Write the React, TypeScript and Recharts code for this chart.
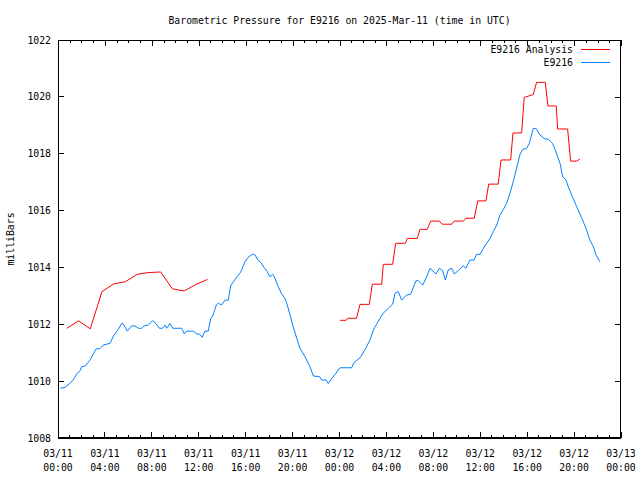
import React from 'react';
import { LineChart, Line, XAxis, YAxis } from 'recharts';

// hours since 03/11 00:00 UTC, pressure in mbar
const analysisEarlyHours = [0.75, 1.75, 2.75, 3.75, 4.75, 5.75, 6.75, 7.75, 8.75, 9.75, 10.75, 11.75, 12.75];
const analysisEarlyValues = [1011.86, 1012.12, 1011.84, 1013.15, 1013.42, 1013.5, 1013.76, 1013.82, 1013.84, 1013.25, 1013.17, 1013.4, 1013.58];

const analysisLateHours = [
  24.04, 24.55, 24.7, 25.45, 25.75, 26.54, 26.8, 27.6, 27.73, 28.53, 28.79, 29.61, 29.78, 30.63,
  30.86, 31.48, 31.77, 32.51, 32.76, 33.56, 33.78, 34.55, 34.78, 35.49, 35.78, 36.49, 36.72, 37.53,
  37.77, 38.59, 38.79, 39.53, 39.75, 40.52, 40.8, 41.54, 41.77, 42.48, 42.6, 43.45, 43.7, 44.22, 44.5,
];
const analysisLateValues = [
  1012.14, 1012.14, 1012.21, 1012.21, 1012.7, 1012.7, 1013.41, 1013.41, 1014.11, 1014.11, 1014.85, 1014.85, 1015.02, 1015.02,
  1015.34, 1015.34, 1015.63, 1015.63, 1015.52, 1015.52, 1015.63, 1015.63, 1015.73, 1015.73, 1016.34, 1016.34, 1016.93, 1016.93,
  1017.78, 1017.78, 1018.73, 1018.73, 1019.98, 1020.08, 1020.51, 1020.51, 1019.68, 1019.68, 1018.87, 1018.87, 1017.74, 1017.74, 1017.81,
];

const stationHours = [
  0.2, 0.6, 1.0, 1.3, 1.59, 1.88, 2.02, 2.3, 2.73, 3.24, 3.58, 3.86, 4.43, 4.77, 5.14, 5.43, 5.55, 5.91,
  6.28, 6.56, 6.85, 7.13, 7.33, 7.7, 8.07, 8.35, 8.64, 8.92, 9.12, 9.27, 9.55, 9.78, 10.55, 10.77, 10.97,
  11.54, 11.82, 12.05, 12.3, 12.53, 12.81, 13.02, 13.19, 13.5, 13.67, 13.95, 14.24, 14.52, 14.72, 14.89,
  15.23, 15.57, 15.94, 16.22, 16.6, 16.79, 17.08, 17.31, 17.56, 17.84, 18.07, 18.3, 18.5, 18.78, 19.07,
  19.35, 19.55, 19.78, 20.01, 20.35, 20.63, 21.06, 21.48, 21.77, 22.28, 22.48, 22.85, 23.04, 23.25, 23.7,
  24.04, 25.04, 25.23, 25.75, 26.17, 26.6, 26.88, 27.17, 27.45, 27.73, 28.16, 28.53, 28.73, 29.01, 29.3,
  29.72, 30.07, 30.52, 30.72, 31.09, 31.43, 31.71, 32.23, 32.51, 32.79, 33.02, 33.27, 33.56, 33.79, 34.13,
  34.55, 34.78, 35.12, 35.47, 35.69, 35.98, 36.26, 36.55, 36.83, 37.11, 37.4, 37.68, 37.97, 38.25, 38.53,
  38.82, 39.1, 39.39, 39.61, 39.95, 40.18, 40.52, 40.75, 41.09, 41.52, 41.8, 42.17, 42.45, 42.8, 43.03,
  43.31, 43.5, 43.79, 44.22, 44.65, 45.01, 45.35, 45.64, 45.87, 46.21,
];
const stationValues = [
  1009.75, 1009.78, 1009.92, 1010.04, 1010.25, 1010.37, 1010.51, 1010.53, 1010.74, 1011.13, 1011.15, 1011.27, 1011.33, 1011.62, 1011.82, 1012.03, 1012.02, 1011.76,
  1011.94, 1011.94, 1011.86, 1011.86, 1011.94, 1011.97, 1012.13, 1012.03, 1011.86, 1011.86, 1011.97, 1011.86, 1012.03, 1011.86, 1011.86, 1011.66, 1011.76,
  1011.76, 1011.66, 1011.66, 1011.54, 1011.76, 1011.76, 1012.2, 1012.29, 1012.68, 1012.74, 1012.68, 1012.85, 1012.85, 1013.35, 1013.46,
  1013.65, 1013.83, 1014.2, 1014.36, 1014.47, 1014.44, 1014.24, 1014.17, 1014.0, 1013.85, 1013.67, 1013.76, 1013.62, 1013.32, 1013.07,
  1012.91, 1012.68, 1012.33, 1011.97, 1011.51, 1011.16, 1010.86, 1010.51, 1010.18, 1010.16, 1010.04, 1010.04, 1009.92, 1010.04, 1010.28,
  1010.47, 1010.47, 1010.65, 1010.82, 1011.1, 1011.45, 1011.8, 1012.01, 1012.21, 1012.39, 1012.56, 1012.71, 1013.09, 1013.15, 1012.85,
  1013.03, 1013.06, 1013.53, 1013.53, 1013.38, 1013.67, 1013.97, 1013.77, 1013.97, 1013.89, 1013.56, 1013.91, 1013.97, 1013.77, 1013.89,
  1014.06, 1013.97, 1014.26, 1014.26, 1014.46, 1014.46, 1014.67, 1014.85, 1015.02, 1015.26, 1015.49, 1015.84, 1016.04, 1016.26, 1016.61,
  1017.02, 1017.49, 1017.98, 1018.15, 1018.19, 1018.36, 1018.89, 1018.89, 1018.66, 1018.52, 1018.51, 1018.36, 1018.07, 1017.66, 1017.19,
  1017.07, 1016.84, 1016.55, 1016.14, 1015.73, 1015.38, 1014.96, 1014.73, 1014.44, 1014.2,
];

const dayLabels = ['03/11', '03/11', '03/11', '03/11', '03/11', '03/11', '03/12', '03/12', '03/12', '03/12', '03/12', '03/12', '03/13'];
const timeLabels = ['00:00', '04:00', '08:00', '12:00', '16:00', '20:00', '00:00', '04:00', '08:00', '12:00', '16:00', '20:00', '00:00'];
const pressureTicks = [1008, 1010, 1012, 1014, 1016, 1018, 1020, 1022];

const hourTicks = Array.from({ length: 49 }, (_, i) => i);
const zip = (hs: number[], vs: number[]) => hs.map((h, i) => ({ h, v: vs[i] }));

const analysisEarly = zip(analysisEarlyHours, analysisEarlyValues);
const analysisLate = zip(analysisLateHours, analysisLateValues);
const station = zip(stationHours, stationValues);

const FONT = '"DejaVu Sans Mono", monospace';
const FS = 9.8;
const RED = '#ff0000';
const BLUE = '#0080ff';

// frame edges (match chart margins below)
const TOP = 40;
const BOTTOM = 438;
const LEFT = 58;
const RIGHT = 621;
const xPx = (h: number) => Math.round(LEFT + (h / 48) * (RIGHT - LEFT)) + 0.5;
const yPx = (v: number) => Math.round(BOTTOM - ((v - 1008) / 14) * (BOTTOM - TOP)) + 0.5;

const BottomTick = (props: any) => {
  const { x, payload } = props;
  const h = payload.value;
  const major = h % 4 === 0;
  const idx = h / 4;
  return (
    <g>
      <line x1={x} x2={x} y1={BOTTOM} y2={BOTTOM - (major ? 6 : 3)} stroke="#000" shapeRendering="crispEdges" />
      {major && (
        <text x={x} y={BOTTOM + 19} textAnchor="middle" fontFamily={FONT} fontSize={FS} fill="#000">
          <tspan x={x}>{dayLabels[idx]}</tspan>
          <tspan x={x} dy={14}>{timeLabels[idx]}</tspan>
        </text>
      )}
    </g>
  );
};

const LeftTick = (props: any) => {
  const { y, payload } = props;
  return (
    <g>
      <line x1={LEFT} x2={LEFT + 6} y1={y} y2={y} stroke="#000" shapeRendering="crispEdges" />
      <text x={51} y={y + 3.5} textAnchor="end" fontFamily={FONT} fontSize={FS} fill="#000">
        {payload.value}
      </text>
    </g>
  );
};

const axisLine = { stroke: '#000', shapeRendering: 'crispEdges' };

export default function App() {
  return (
    <div style={{ position: 'absolute', left: 0, top: 0, width: 640, height: 480, background: '#fff' }}>
      <LineChart width={640} height={480} margin={{ top: TOP, right: 640 - RIGHT, left: 0, bottom: 0 }}>
        <XAxis
          dataKey="h"
          type="number"
          domain={[0, 48]}
          ticks={hourTicks}
          interval={0}
          height={480 - BOTTOM}
          tickSize={6}
          tickMargin={0}
          tickLine={false}
          axisLine={axisLine}
          tick={<BottomTick />}
          allowDataOverflow
        />
        <YAxis
          type="number"
          domain={[1008, 1022]}
          ticks={pressureTicks}
          interval={0}
          width={LEFT}
          tickSize={6}
          tickMargin={0}
          tickLine={false}
          axisLine={axisLine}
          tick={<LeftTick />}
          allowDataOverflow
        />
        <Line data={analysisEarly} dataKey="v" type="linear" stroke={RED} strokeWidth={1} dot={false} isAnimationActive={false} />
        <Line data={analysisLate} dataKey="v" type="linear" stroke={RED} strokeWidth={1} dot={false} isAnimationActive={false} />
        <Line data={station} dataKey="v" type="linear" stroke={BLUE} strokeWidth={1} dot={false} isAnimationActive={false} />
      </LineChart>
      <svg width={640} height={480} style={{ position: 'absolute', left: 0, top: 0, pointerEvents: 'none' }}>
        {/* full border box with mirrored tics on top and right */}
        <rect x={LEFT + 0.5} y={TOP + 0.5} width={RIGHT - LEFT - 1} height={BOTTOM - TOP - 1} fill="none" stroke="#000" strokeWidth={1} />
        {hourTicks.map((h) => (
          <line key={'t' + h} x1={xPx(h)} x2={xPx(h)} y1={TOP} y2={TOP + (h % 4 === 0 ? 6 : 3)} stroke="#000" strokeWidth={1} />
        ))}
        {pressureTicks.map((v) => (
          <line key={'r' + v} x1={RIGHT} x2={RIGHT - 6} y1={yPx(v)} y2={yPx(v)} stroke="#000" strokeWidth={1} />
        ))}
        <text x={339.5} y={24} textAnchor="middle" fontFamily={FONT} fontSize={FS} fill="#000">
          Barometric Pressure for E9216 on 2025-Mar-11 (time in UTC)
        </text>
        <text x={14} y={239} transform="rotate(-90 14 239)" textAnchor="middle" fontFamily={FONT} fontSize={FS} fill="#000">
          milliBars
        </text>
        <text x={573} y={53} textAnchor="end" fontFamily={FONT} fontSize={FS} fill="#000">E9216 Analysis</text>
        <line x1={581} x2={610} y1={49.5} y2={49.5} stroke={RED} />
        <text x={573} y={66} textAnchor="end" fontFamily={FONT} fontSize={FS} fill="#000">E9216</text>
        <line x1={581} x2={610} y1={62.5} y2={62.5} stroke={BLUE} />
      </svg>
    </div>
  );
}
